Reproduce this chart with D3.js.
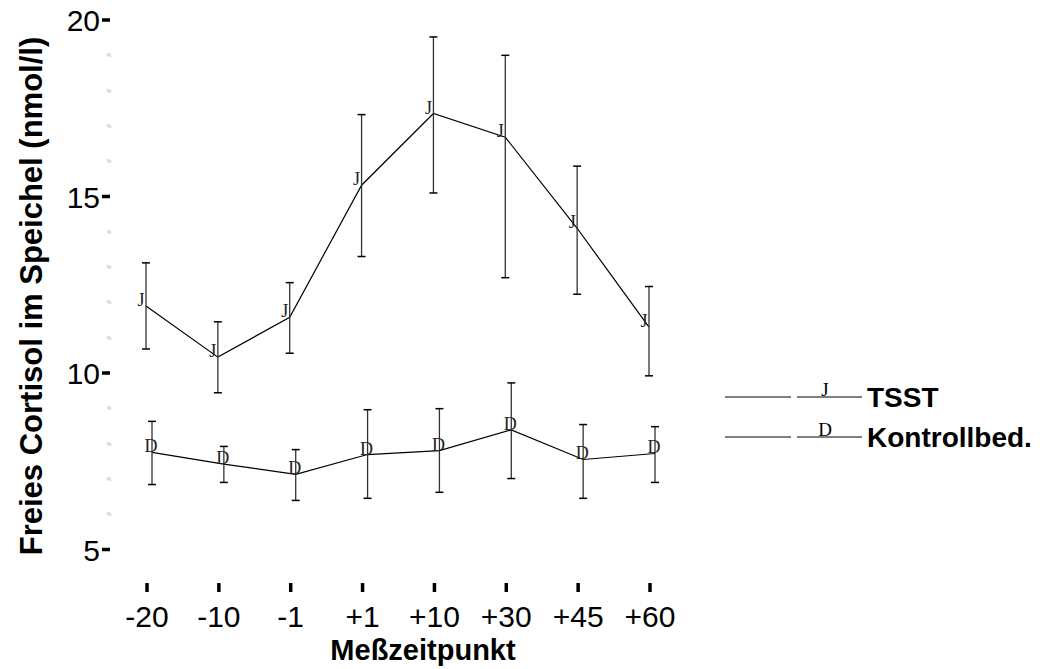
<!DOCTYPE html>
<html>
<head>
<meta charset="utf-8">
<script src="https://cdn.jsdelivr.net/npm/d3@7"></script>
<style>
  body { margin: 0; background: #fff; }
  svg { display: block; }
</style>
</head>
<body>
<svg id="chart" width="1046" height="669"></svg>
<script>
const categories = ["-20", "-10", "-1", "+1", "+10", "+30", "+45", "+60"];
const tsstMean = [11.9, 10.45, 11.58, 15.32, 17.35, 16.68, 14.1, 11.3];
const tsstHigh = [13.12, 11.45, 12.56, 17.32, 19.52, 19.0, 15.86, 12.45];
const tsstLow = [10.68, 9.44, 10.56, 13.3, 15.1, 12.7, 12.23, 9.92];
const ctrlMean = [7.75, 7.42, 7.13, 7.69, 7.8, 8.39, 7.55, 7.72];
const ctrlHigh = [8.63, 7.92, 7.83, 8.96, 8.99, 9.72, 8.54, 8.48];
const ctrlLow = [6.84, 6.9, 6.39, 6.45, 6.62, 7.01, 6.45, 6.9];
const yTicks = [5, 10, 15, 20];
const yMinor = [6, 7, 8, 9, 11, 12, 13, 14, 16, 17, 18, 19];

const series = [
  { name: "TSST", marker: "J", mean: tsstMean, high: tsstHigh, low: tsstLow, dx: -1 },
  { name: "Kontrollbed.", marker: "D", mean: ctrlMean, high: ctrlHigh, low: ctrlLow, dx: 5 }
];

const SANS = "Liberation Sans, Arial, sans-serif";
const SERIF = "Liberation Serif, Times New Roman, serif";

const svg = d3.select("#chart");
const x = d3.scalePoint().domain(categories).range([147, 650]);
const y = d3.scaleLinear().domain([5, 20]).range([549.5, 20]);

// y axis: only short thick ticks + labels
const yAxis = svg.append("g");
yAxis.selectAll("line.major").data(yTicks).join("line")
  .attr("x1", 102).attr("x2", 110)
  .attr("y1", d => y(d)).attr("y2", d => y(d))
  .attr("stroke", "#000").attr("stroke-width", 3.5);
yAxis.selectAll("text.lab").data(yTicks).join("text")
  .attr("x", 100).attr("y", d => y(d) + 11)
  .attr("text-anchor", "end")
  .attr("font-family", SANS)
  .attr("font-size", 30)
  .text(d => d);
yAxis.selectAll("text.minor").data(yMinor).join("text")
  .attr("x", 109).attr("y", d => y(d) + 2)
  .attr("text-anchor", "middle")
  .attr("font-family", SANS)
  .attr("font-size", 5)
  .attr("fill", "#aaa")
  .text("%");

// x axis
const xAxis = svg.append("g");
xAxis.selectAll("line").data(categories).join("line")
  .attr("x1", d => x(d)).attr("x2", d => x(d))
  .attr("y1", 583).attr("y2", 592)
  .attr("stroke", "#000").attr("stroke-width", 3.5);
xAxis.selectAll("text").data(categories).join("text")
  .attr("x", d => x(d)).attr("y", 627)
  .attr("text-anchor", "middle")
  .attr("font-family", SANS)
  .attr("font-size", 30)
  .text(d => d);

svg.append("text")
  .attr("x", 423).attr("y", 660)
  .attr("text-anchor", "middle")
  .attr("font-family", SANS)
  .attr("font-weight", "bold")
  .attr("font-size", 29)
  .text("Meßzeitpunkt");

svg.append("text")
  .attr("transform", "translate(42,296) rotate(-90)")
  .attr("text-anchor", "middle")
  .attr("font-family", SANS)
  .attr("font-weight", "bold")
  .attr("font-size", 31)
  .text("Freies Cortisol im Speichel (nmol/l)");

// series
const line = d3.line();
series.forEach(s => {
  const g = svg.append("g");
  const pts = categories.map((c, i) => [x(c) + s.dx, y(s.mean[i])]);
  g.append("path").attr("d", line(pts))
    .attr("fill", "none").attr("stroke", "#000").attr("stroke-width", 1.2);
  const eb = g.selectAll("g.eb").data(categories).join("g");
  eb.append("line")
    .attr("x1", (c) => x(c) + s.dx).attr("x2", (c) => x(c) + s.dx)
    .attr("y1", (c, i) => y(s.high[i])).attr("y2", (c, i) => y(s.low[i]))
    .attr("stroke", "#333").attr("stroke-width", 1.3);
  [s.high, s.low].forEach(arr => {
    eb.append("line")
      .attr("x1", c => x(c) + s.dx - 4).attr("x2", c => x(c) + s.dx + 4)
      .attr("y1", (c, i) => y(arr[i])).attr("y2", (c, i) => y(arr[i]))
      .attr("stroke", "#000").attr("stroke-width", 1.5);
  });
  eb.append("text")
    .attr("x", c => x(c) + s.dx + (s.marker === "J" ? -5 : -1))
    .attr("y", (c, i) => y(s.mean[i]))
    .attr("text-anchor", "middle")
    .attr("font-family", SERIF)
    .attr("font-size", 18)
    .attr("fill", "#222")
    .text(s.marker);
});

// legend
const legend = svg.append("g");
series.forEach((s, i) => {
  const ly = 397 + i * 40;
  legend.append("line").attr("x1", 725).attr("x2", 791).attr("y1", ly).attr("y2", ly)
    .attr("stroke", "#000").attr("stroke-width", 1);
  legend.append("line").attr("x1", 797).attr("x2", 862).attr("y1", ly).attr("y2", ly)
    .attr("stroke", "#000").attr("stroke-width", 1);
  legend.append("text").attr("x", 825).attr("y", ly - 1)
    .attr("text-anchor", "middle")
    .attr("font-family", SERIF)
    .attr("font-size", 19)
    .text(s.marker);
  legend.append("text").attr("x", 867).attr("y", ly + 10)
    .attr("font-family", SANS)
    .attr("font-weight", "bold")
    .attr("font-size", 28)
    .text(s.name);
});
</script>
</body>
</html>
